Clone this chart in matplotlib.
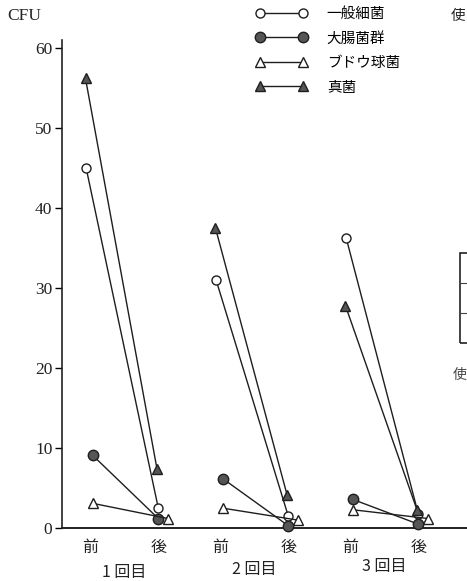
import matplotlib
matplotlib.use("Agg")
import matplotlib.pyplot as plt
from matplotlib.lines import Line2D
from matplotlib.patches import Rectangle

plt.rcParams['font.family'] = ['Noto Sans CJK JP', 'DejaVu Sans']

# data (CFU)
rounds = ["1 回目", "2 回目", "3 回目"]
phases = ["前", "後"]
series_names = ["一般細菌", "大腸菌群", "ブドウ球菌", "真菌"]
# values per round: [before, after]
general = [[45.0, 2.5], [31.0, 1.5], [36.3, 1.8]]
coliform = [[9.1, 1.2], [6.2, 0.3], [3.6, 0.5]]
staph = [[3.1, 1.2], [2.5, 1.0], [2.3, 1.2]]
fungi = [[56.2, 7.4], [37.5, 4.2], [27.8, 2.3]]

line_col = "#1e1e1e"
fill_col = "#555555"

# marker styles and small horizontal nudges (before, after)
styles = [
    dict(data=general, marker="o", ms=6.5, mfc="white", dx=(-0.06, 0.0)),
    dict(data=coliform, marker="o", ms=7.5, mfc=fill_col, dx=(0.04, 0.0)),
    dict(data=staph, marker="^", ms=7.5, mfc="white", dx=(0.04, 0.15)),
    dict(data=fungi, marker="^", ms=7.5, mfc=fill_col, dx=(-0.07, -0.02)),
]

group_gap = 2.0
after_off = 1.05

fig = plt.figure(figsize=(4.67, 5.81), dpi=100)
ax = fig.add_axes([0.133, 0.091, 0.867, 0.84])

handles = []
for name, st in zip(series_names, styles):
    for g, (b, a) in enumerate(st["data"]):
        x0 = g * group_gap + st["dx"][0]
        x1 = g * group_gap + after_off + st["dx"][1]
        ax.plot([x0, x1], [b, a], color=line_col, lw=1.0,
                marker=st["marker"], ms=st["ms"], mfc=st["mfc"],
                mec=line_col, mew=1.0, zorder=3, clip_on=False)
    handles.append(Line2D([], [], color=line_col, lw=1.0, marker=st["marker"],
                          ms=st["ms"], mfc=st["mfc"], mec=line_col, mew=1.0,
                          label=name))

ax.set_xlim(-0.43, 5.8)
ax.set_ylim(0, 61)

for s in ["top", "right"]:
    ax.spines[s].set_visible(False)
ax.spines["left"].set_linewidth(1.2)
ax.spines["bottom"].set_linewidth(1.4)
ax.spines["left"].set_color("#222222")
ax.spines["bottom"].set_color("#222222")

ax.set_yticks([0, 10, 20, 30, 40, 50, 60])
ax.set_yticklabels(["0", "10", "20", "30", "40", "50", "60"],
                   family="Liberation Serif", fontsize=12.5, color="#222222")
ax.tick_params(axis="y", direction="out", length=5, width=1, pad=2)

xt = []
xl = []
for g in range(3):
    xt += [g * group_gap, g * group_gap + after_off]
    xl += phases
ax.set_xticks(xt)
ax.set_xticklabels(xl, fontsize=11.5, color="#222222")
ax.tick_params(axis="x", length=0, pad=8)

for g, lab in enumerate(rounds):
    ax.text(g * group_gap + after_off / 2, -0.09 + 0.006 * g, lab, fontsize=11.5,
            color="#222222", ha="center", va="center",
            transform=ax.get_xaxis_transform())

fig.text(0.015, 0.972, "CFU", family="Liberation Serif", fontsize=12.5,
         color="#222222", ha="left", va="center")

fig.legend(handles=handles, loc="upper left", bbox_to_anchor=(0.528, 1.003),
           frameon=False, numpoints=2, handlelength=3.6, handletextpad=1.3,
           labelspacing=0.72, fontsize=10.5, borderaxespad=0.2)

# fragments of the neighbouring figure at the right edge
fig.text(0.966, 0.972, "使", fontsize=10.5, color="#222222", ha="left", va="center")
fig.text(0.970, 0.355, "使", fontsize=10, color="#444444", ha="left", va="center")
fig.add_artist(Rectangle((0.985, 0.41), 0.03, 0.155, transform=fig.transFigure,
                         fill=False, ec="#222222", lw=1.2))
for yy in [0.462, 0.513]:
    fig.add_artist(Line2D([0.985, 1.0], [yy, yy], transform=fig.transFigure,
                          color="#444444", lw=0.8))

fig.savefig("out.png", dpi=100)
